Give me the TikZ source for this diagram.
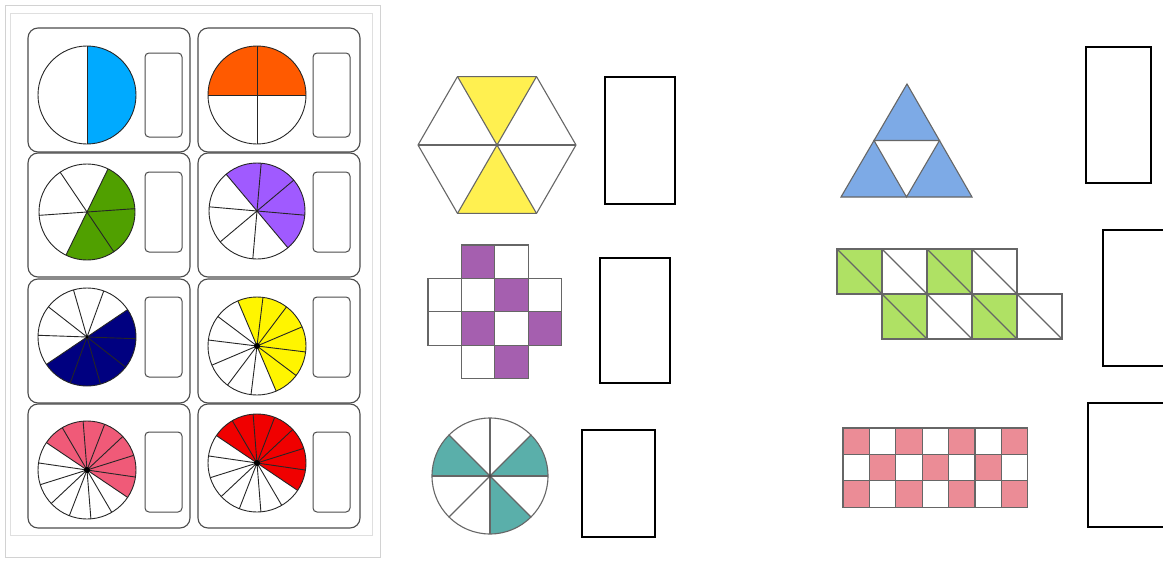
\documentclass[tikz,border=0pt]{standalone}
\usepackage{tikz}
\usetikzlibrary{calc}
\definecolor{pieblue}{RGB}{0,170,255}
\definecolor{piegreen}{RGB}{80,160,0}
\definecolor{pieorange}{RGB}{255,90,0}
\definecolor{piepurple}{RGB}{160,90,255}
\definecolor{pienavy}{RGB}{0,0,128}
\definecolor{pieyellow}{RGB}{255,245,0}
\definecolor{piepink}{RGB}{240,90,120}
\definecolor{piered}{RGB}{240,0,0}
\definecolor{hexyellow}{RGB}{255,240,80}
\definecolor{gridpurple}{RGB}{165,95,175}
\definecolor{tealfill}{RGB}{90,175,170}
\definecolor{triblue}{RGB}{125,170,230}
\definecolor{paragreen}{RGB}{175,225,100}
\definecolor{checkpink}{RGB}{235,140,150}
\tikzset{
  pieline/.style={draw=black!85,line width=0.9pt},
  cellbox/.style={draw=black!70,line width=1.1pt,rounded corners=10pt},
  slotbox/.style={draw=black!70,line width=1pt,rounded corners=4pt},
  ansbox/.style={draw=black,line width=1.8pt},
  shapeline/.style={draw=black!60,line width=1.1pt},
}
% x, y, radius, parts, start angle, shaded parts, colour
\newcommand{\fracpie}[7]{%
  \pgfmathsetmacro{\pstep}{360/#4}
  \fill[#7] (#1,#2) -- ++(#5:#3) arc[start angle=#5,delta angle=#6*\pstep,radius=#3] -- cycle;
  \foreach \k in {1,...,#4} \draw[pieline] (#1,#2) -- ++(#5+\k*\pstep:#3);
  \draw[pieline] (#1,#2) circle[radius=#3];
}

\begin{document}
\begin{tikzpicture}[x=1pt,y=-1pt]
\useasboundingbox (0,0) rectangle (1163,562);
\fill[white] (0,0) rectangle (1163,562);

% left sheet
\draw[gray!35,line width=1pt] (5,5) rectangle (380,557);
\draw[gray!25,line width=0.8pt] (10,13) rectangle (372,535);
\foreach \cx in {28,198}
  \foreach \ry/\rb in {28/152,153/277,279/403,404/528}
    \draw[cellbox] (\cx,\ry) rectangle (\cx+162,\rb);
\foreach \bx in {145,313}
  \foreach \by/\bb in {53/137,172/252,297/377,432/512}
    \draw[slotbox] (\bx,\by) rectangle (\bx+37,\bb);

\fracpie{87}{95}{49}{2}{-90}{1}{pieblue}
\fracpie{257}{95}{49}{4}{-180}{2}{pieorange}
\fracpie{87}{212}{48}{6}{-64}{3}{piegreen}
\fracpie{257}{211}{48}{8}{-130}{4}{piepurple}
\fracpie{87}{337}{49}{10}{-34}{5}{pienavy}
\fracpie{257}{346}{49}{12}{-113}{6}{pieyellow}
\fracpie{87}{470}{49}{14}{-146}{7}{piepink}
\fracpie{257}{463}{49}{14}{-146}{7}{piered}
\fill (87,337) circle[radius=1.5];
\fill (257,346) circle[radius=3];
\fill (87,470) circle[radius=3];
\fill (257,463) circle[radius=3];

% hexagon
\coordinate (hc) at (497,145);
\fill[hexyellow] (hc) -- ++(-120:79) -- ++(0:79) -- cycle;
\fill[hexyellow] (hc) -- ++(60:79) -- ++(180:79) -- cycle;
\draw[shapeline] (hc) +(0:79) \foreach \a in {60,120,...,300}{ -- +(\a:79)} -- cycle;
\foreach \a in {0,60,120}
  \draw[shapeline] ($(hc)+(\a:79)$) -- ($(hc)+(\a+180:79)$);
\draw[ansbox] (605,77) rectangle (675,204);

% cross of squares
\foreach \c/\r/\f in {1/0/gridpurple,2/0/white,0/1/white,1/1/white,2/1/gridpurple,3/1/white,
                      0/2/white,1/2/gridpurple,2/2/white,3/2/gridpurple,1/3/white,2/3/gridpurple}
  \draw[shapeline,fill=\f] (428+\c*33.4,245+\r*33.4) rectangle ++(33.4,33.4);
\draw[ansbox] (600,258) rectangle (670,383);

% circle in eighths
\coordinate (tc) at (490,476);
\foreach \s in {-180,-45,45}
  \fill[tealfill] (tc) -- ++(\s:58) arc[start angle=\s,delta angle=45,radius=58] -- cycle;
\foreach \a in {0,45,90,135}
  \draw[shapeline] ($(tc)+(\a:58)$) -- ($(tc)+(\a+180:58)$);
\draw[shapeline] (tc) circle[radius=58];
\fill[black!70] (tc) circle[radius=1.8];
\draw[ansbox] (582,430) rectangle (655,537);

% triangle
\fill[triblue] (907,84) -- (841,197) -- (972,197) -- cycle;
\fill[white] (874,140.5) -- (939.5,140.5) -- (906.5,197) -- cycle;
\draw[shapeline] (907,84) -- (841,197) -- (972,197) -- cycle;
\draw[shapeline] (874,140.5) -- (939.5,140.5) -- (906.5,197) -- cycle;
\draw[ansbox] (1086,47) rectangle (1151,183);

% strip of squares with diagonals
\foreach \c/\r/\f in {0/0/paragreen,1/0/white,2/0/paragreen,3/0/white,
                      1/1/paragreen,2/1/white,3/1/paragreen,4/1/white}{
  \draw[shapeline,fill=\f] (837+\c*45,249+\r*45) rectangle ++(45,45);
  \draw[shapeline] (837+\c*45,249+\r*45) -- ++(45,45);
}
\draw[ansbox] (1175,230) -| (1103,366) -- (1175,366);

% checkerboard
\foreach \c in {0,...,6}
  \foreach \r in {0,1,2}{
    \pgfmathtruncatemacro{\odd}{mod(\c+\r,2)}
    \ifnum\odd=0
      \draw[shapeline,fill=checkpink] (843+\c*26.4,428+\r*26.4) rectangle ++(26.4,26.4);
    \else
      \draw[shapeline] (843+\c*26.4,428+\r*26.4) rectangle ++(26.4,26.4);
    \fi
  }
\draw[ansbox] (1175,403) -| (1088,527) -- (1175,527);
\end{tikzpicture}
\end{document}
